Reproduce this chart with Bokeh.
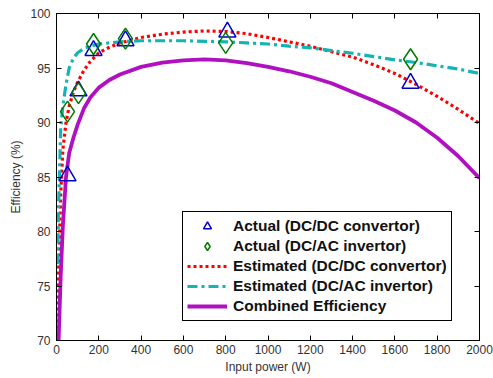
from bokeh.plotting import figure
from bokeh.models import Range1d, LinearAxis, FixedTicker, Legend, LegendItem
from bokeh.embed import file_html
from bokeh.resources import INLINE

# ---- data ----
x_est = [5, 10, 20, 30, 45, 60, 80, 100, 130, 160, 200, 250, 300, 400, 500, 600,
         700, 800, 900, 1000, 1100, 1200, 1300, 1400, 1500, 1600, 1700, 1800, 1900, 2000]
dcdc_est = [70.0, 76.5, 83.5, 87.5, 90.0, 91.5, 92.8, 93.7, 94.8, 95.6, 96.4, 96.9, 97.3,
            97.8, 98.1, 98.3, 98.4, 98.35, 98.15, 97.8, 97.4, 97.0, 96.5, 96.0, 95.3,
            94.5, 93.5, 92.4, 91.2, 89.9]
dcac_est = [77.0, 82.5, 89.5, 91.5, 93.5, 95.0, 95.9, 96.4, 96.8, 97.0, 97.2, 97.3, 97.4,
            97.5, 97.5, 97.5, 97.45, 97.4, 97.3, 97.2, 97.0, 96.85, 96.6, 96.35, 96.05,
            95.75, 95.5, 95.2, 94.9, 94.5]
combined = [64.0, 70.0, 76.0, 80.5, 85.0, 87.2, 88.6, 89.8, 91.3, 92.3, 93.2, 93.9, 94.4,
            95.1, 95.5, 95.7, 95.8, 95.7, 95.45, 95.1, 94.7, 94.2, 93.6, 92.8, 92.0,
            91.1, 90.0, 88.6, 86.9, 84.9]

x_act_dc = [52, 104, 175, 326, 808, 1674]
dcdc_act = [85.1, 92.9, 96.6, 97.5, 98.3, 93.6]
x_act_ac = [52, 104, 175, 326, 800, 1674]
dcac_act = [91.0, 92.7, 97.2, 97.7, 97.3, 95.8]

x_ticks = [0, 200, 400, 600, 800, 1000, 1200, 1400, 1600, 1800, 2000]
y_ticks = [70, 75, 80, 85, 90, 95, 100]

labels = ["Actual (DC/DC convertor)", "Actual (DC/AC invertor)",
          "Estimated (DC/DC convertor)", "Estimated (DC/AC invertor)",
          "Combined Efficiency"]

FONT = "Liberation Sans"

p = figure(width=493, height=378, x_range=Range1d(0, 2000), y_range=Range1d(70, 100),
           output_backend="svg", toolbar_location=None,
           min_border_left=56, min_border_right=14, min_border_top=13, min_border_bottom=38)
p.xgrid.grid_line_color = None
p.ygrid.grid_line_color = None
p.outline_line_color = "black"
p.outline_line_alpha = 1.0
p.background_fill_color = "white"
p.border_fill_color = "white"

for ax, ticks in ((p.xaxis[0], x_ticks), (p.yaxis[0], y_ticks)):
    ax.ticker = FixedTicker(ticks=ticks)
    ax.major_tick_in = 5
    ax.major_tick_out = 0
    ax.minor_tick_line_color = None
    ax.axis_line_color = "black"
    ax.major_tick_line_color = "black"
    ax.major_label_text_font = FONT
    ax.major_label_text_font_size = "12px"
    ax.major_label_text_color = "#333333"
    ax.axis_label_text_font = FONT
    ax.axis_label_text_font_size = "12px"
    ax.axis_label_text_font_style = "normal"
    ax.axis_label_text_color = "#333333"

p.xaxis.axis_label = "Input power (W)"
p.yaxis.axis_label = "Efficiency (%)"
p.xaxis.major_label_standoff = 4
p.xaxis.axis_label_standoff = 3
p.yaxis.major_label_standoff = 6
p.yaxis.axis_label_standoff = 4

for loc, ticks in (("right", y_ticks), ("above", x_ticks)):
    a = LinearAxis(ticker=FixedTicker(ticks=ticks), major_label_text_color=None,
                   major_label_standoff=0, major_tick_in=5, major_tick_out=0,
                   minor_tick_line_color=None, axis_line_color="black",
                   major_tick_line_color="black")
    p.add_layout(a, loc)

r_dcdc = p.line(x_est, dcdc_est, line_color="#ff0000", line_width=3.2, line_dash="3 3")
r_dcac = p.line(x_est, dcac_est, line_color="#14b4b4", line_width=3.2, line_dash="10 4 3 4")
r_comb = p.line(x_est, combined, line_color="#b010c0", line_width=3.8)

r_tri = p.scatter(x_act_dc, dcdc_act, marker="triangle", size=17, fill_color=None,
                  line_color="#0000cc", line_width=1.5)
r_dia = p.scatter(x_act_ac, dcac_act, marker="diamond", size=21, fill_color=None,
                  line_color="#007a00", line_width=1.5)

legend = Legend(items=[LegendItem(label=labels[0], renderers=[r_tri]),
                       LegendItem(label=labels[1], renderers=[r_dia]),
                       LegendItem(label=labels[2], renderers=[r_dcdc]),
                       LegendItem(label=labels[3], renderers=[r_dcac]),
                       LegendItem(label=labels[4], renderers=[r_comb])],
                location=(126, 19))
legend.border_line_color = "black"
legend.border_line_width = 1
legend.border_line_alpha = 1.0
legend.background_fill_color = "white"
legend.background_fill_alpha = 1.0
legend.label_text_font = FONT
legend.label_text_font_size = "15.5px"
legend.label_text_font_style = "bold"
legend.label_text_color = "#111111"
legend.glyph_width = 40
legend.glyph_height = 20
legend.label_height = 20
legend.spacing = 0
legend.padding = 4
legend.label_standoff = 6
legend.margin = 0
p.add_layout(legend)

open("out.html", "w").write(file_html(p, INLINE))
